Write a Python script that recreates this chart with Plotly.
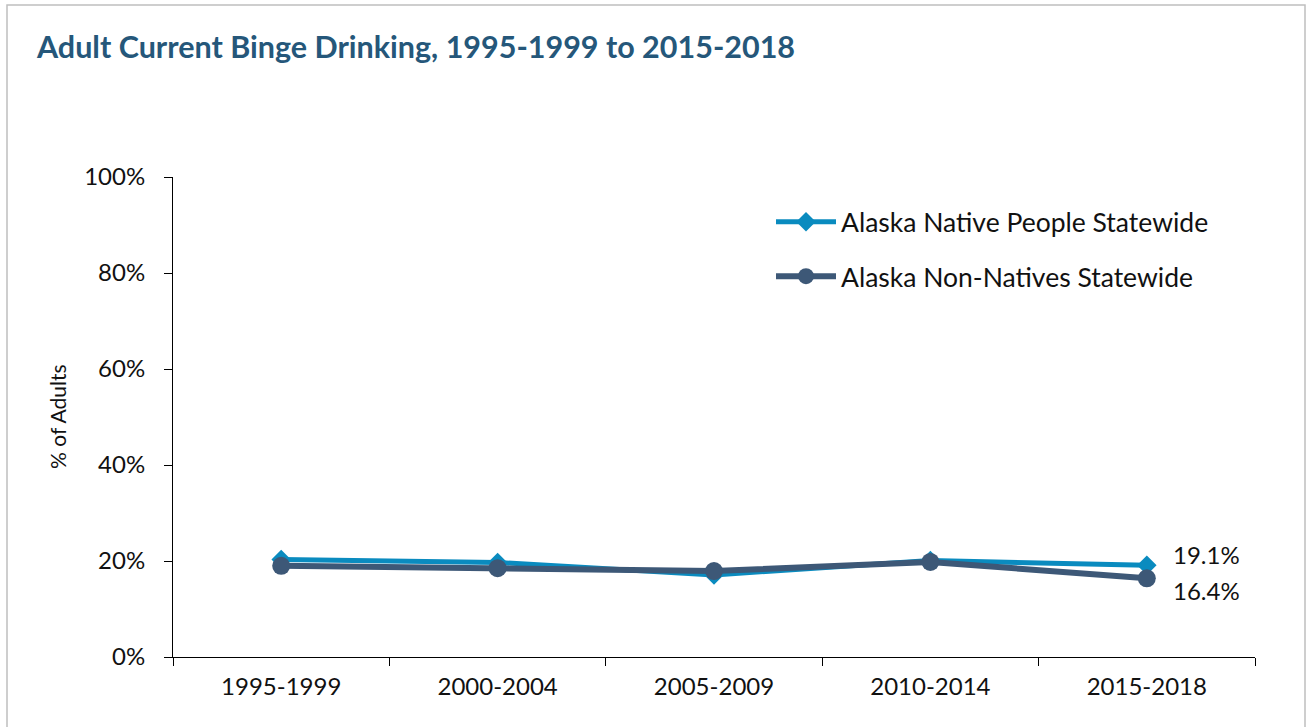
import plotly.graph_objects as go

categories = ["1995-1999", "2000-2004", "2005-2009", "2010-2014", "2015-2018"]
native = [20.3, 19.7, 17.1, 20.1, 19.1]
non_native = [19.0, 18.5, 17.9, 19.8, 16.4]
y_ticks = [0, 20, 40, 60, 80, 100]
y_tick_labels = ["0%", "20%", "40%", "60%", "80%", "100%"]

NATIVE_COLOR = "#0a8bbf"
NONNATIVE_COLOR = "#3d5877"
FONT = "Lato"

fig = go.Figure()
fig.add_trace(go.Scatter(
    x=categories, y=native, name="Alaska Native People Statewide",
    mode="lines+markers", legendgroup="a",
    line=dict(color=NATIVE_COLOR, width=5),
    marker=dict(symbol="diamond", size=15, color=NATIVE_COLOR),
))
fig.add_trace(go.Scatter(
    x=categories, y=non_native, name="Alaska Non-Natives Statewide",
    mode="lines+markers", legendgroup="b",
    line=dict(color=NONNATIVE_COLOR, width=6),
    marker=dict(symbol="circle", size=18, color=NONNATIVE_COLOR),
))

W, H = 1307, 727
L, R, T, B = 173, 52, 177, 70
pw, ph = W - L - R, H - T - B

def px_to_paper_x(px):
    return (px - L) / pw

def px_to_paper_y(py):
    return (H - B - py) / ph

fig.update_layout(
    width=W, height=H,
    margin=dict(l=L, r=R, t=T, b=B),
    paper_bgcolor="white", plot_bgcolor="white",
    font=dict(family=FONT, size=24, color="#111111"),
    title=dict(
        text="<b>Adult Current Binge Drinking, 1995-1999 to 2015-2018</b>",
        x=37 / W, xref="container", xanchor="left",
        y=1 - 47 / H, yref="container", yanchor="middle",
        font=dict(family=FONT, size=30.5, color="#25577a"),
    ),
    showlegend=True,
    legend=dict(
        x=px_to_paper_x(771), xanchor="left",
        y=px_to_paper_y(198), yanchor="top",
        bgcolor="rgba(0,0,0,0)",
        font=dict(family=FONT, size=26.5, color="#111111"),
        traceorder="grouped", tracegroupgap=17,
        itemwidth=60,
    ),
    xaxis=dict(
        type="category", showgrid=False, zeroline=False,
        showline=True, linecolor="#000000", linewidth=1,
        ticks="outside", tickson="boundaries", ticklen=8,
        tickcolor="#000000", tickfont=dict(size=24),
        range=[-0.5, len(categories) - 0.5],
        ticklabelstandoff=8,
    ),
    yaxis=dict(
        range=[0, 100], tickvals=y_ticks, ticktext=y_tick_labels,
        showgrid=False, zeroline=False,
        showline=True, linecolor="#000000", linewidth=1,
        ticks="outside", ticklen=8, tickcolor="#000000",
        tickfont=dict(size=24), ticklabelstandoff=14,
    ),
    shapes=[
        dict(type="rect", xref="paper", yref="paper",
             x0=px_to_paper_x(7), x1=px_to_paper_x(1305),
             y0=px_to_paper_y(740), y1=px_to_paper_y(5),
             line=dict(color="#bfbfbf", width=1.5), layer="below"),
    ],
    annotations=[
        dict(text="% of Adults", textangle=-90, xref="paper", yref="paper",
             x=px_to_paper_x(57), y=0.5, xanchor="center", yanchor="middle",
             showarrow=False, font=dict(family=FONT, size=21, color="#111111")),
        dict(text=f"{native[-1]}%", xref="x", yref="y",
             x=categories[-1], y=native[-1], xanchor="left", yanchor="middle",
             xshift=24, yshift=11, showarrow=False,
             font=dict(family=FONT, size=24, color="#111111")),
        dict(text=f"{non_native[-1]}%", xref="x", yref="y",
             x=categories[-1], y=non_native[-1], xanchor="left", yanchor="middle",
             xshift=24, yshift=-12, showarrow=False,
             font=dict(family=FONT, size=24, color="#111111")),
    ],
)

fig.write_html("out.html")
